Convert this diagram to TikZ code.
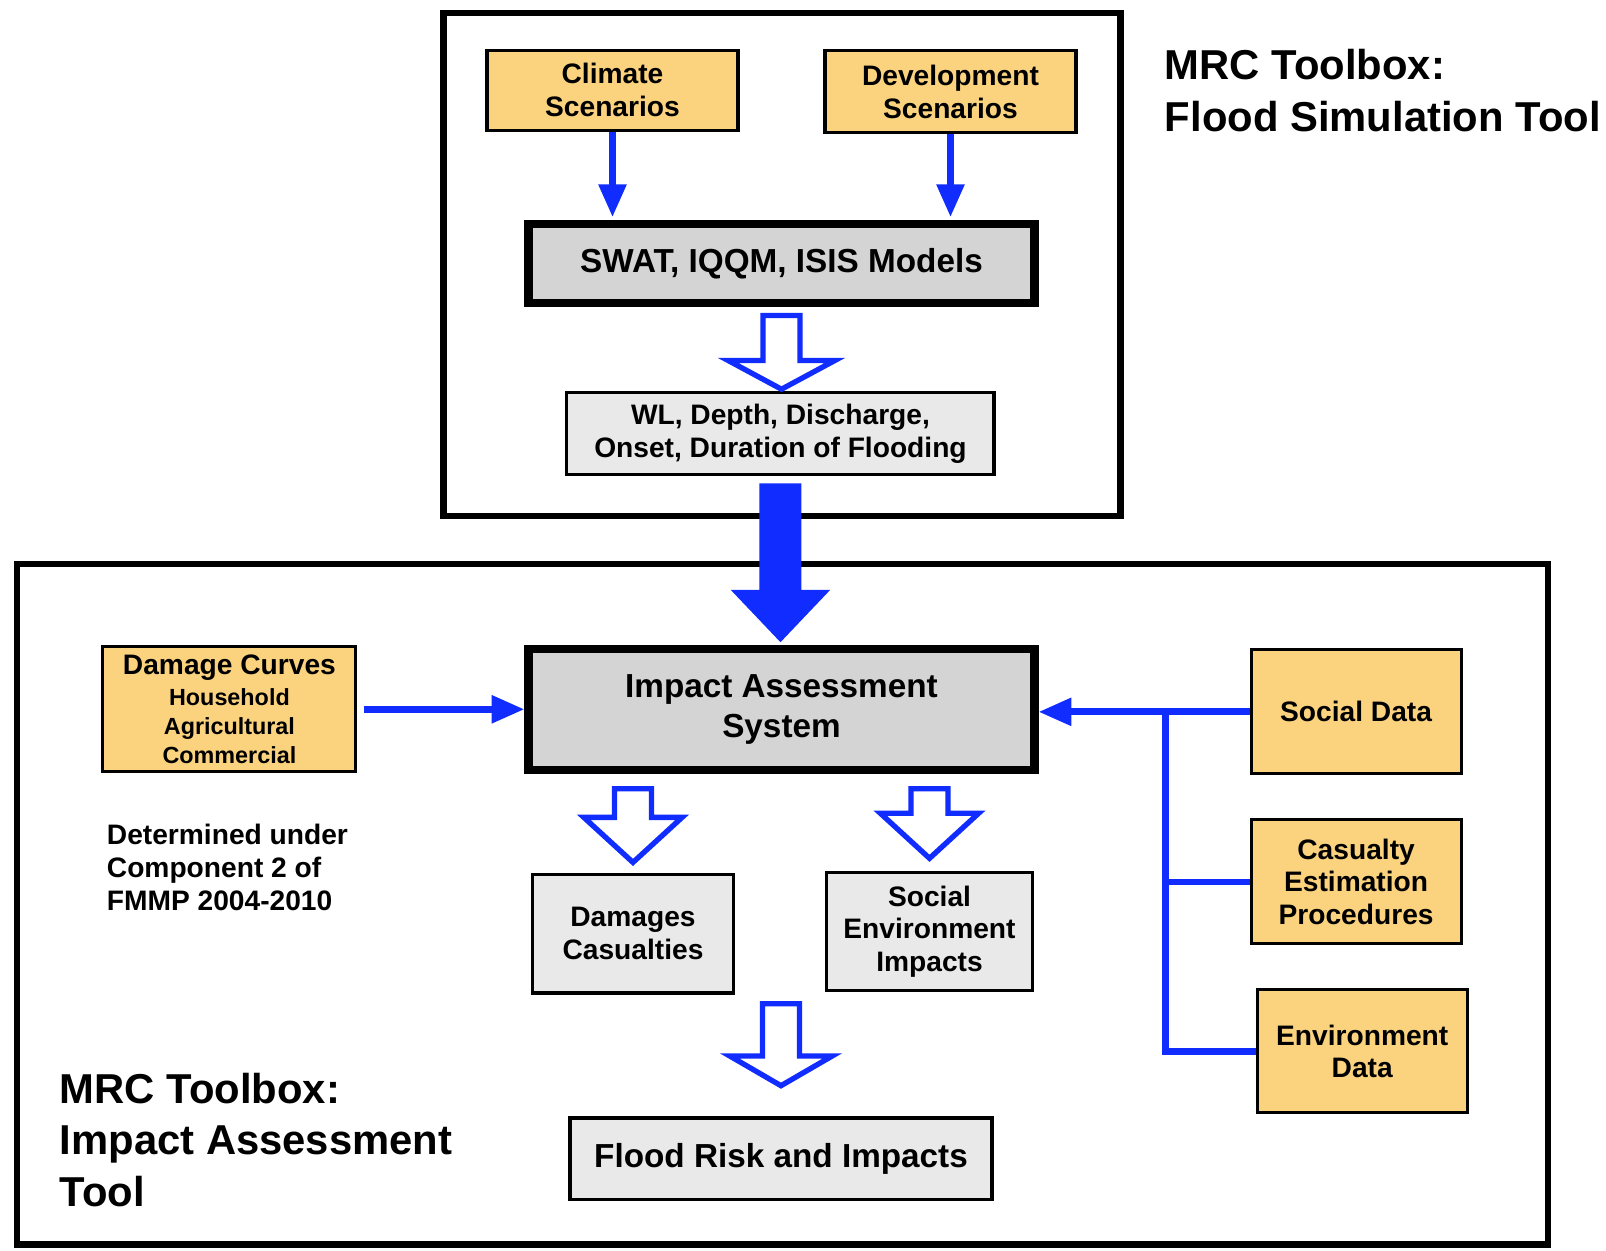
\documentclass[tikz,border=0pt]{standalone}
\usepackage{fontspec}
\setmainfont{Liberation Sans}
\usetikzlibrary{arrows.meta,calc}
\definecolor{orangec}{RGB}{251,211,126}
\definecolor{darkg}{RGB}{212,212,212}
\definecolor{lightg}{RGB}{233,233,233}
\definecolor{blueA}{RGB}{16,44,255}
\newcommand\boxfont{\fontsize{13.75}{16}\selectfont\bfseries}
\newcommand\bigboxfont{\fontsize{16.25}{19.5}\selectfont\bfseries}
\newcommand\subfont{\fontsize{11.4}{14}\selectfont\bfseries}
\newcommand\titlefont{\fontsize{20.4}{25.3}\selectfont\bfseries}
% #1 top point, #2 tip point, #3 head length, #4 head half width
\newcommand\hollowarrow[4]{%
  \draw[hollow] let \p1=#1, \p2=#2 in
    (\x1-9pt,\y1) -- (\x1+9pt,\y1) -- (\x1+9pt,\y2+#3) -- (\x1+#4,\y2+#3)
    -- (\x1,\y2) -- (\x1-#4,\y2+#3) -- (\x1-9pt,\y2+#3) -- cycle;}
\tikzset{
  base/.style={draw=black, align=center, inner sep=0pt, font=\boxfont},
  orangebox/.style={base, fill=orangec, line width=1.5pt},
  lightbox/.style={base, fill=lightg, line width=1.5pt},
  thickbox/.style={base, fill=darkg, line width=4pt, font=\bigboxfont},
  frame/.style={draw=black, line width=3pt, inner sep=0pt},
  blueline/.style={draw=blueA, line width=3.3pt},
  bluearrow/.style={blueline, -{Triangle[length=16pt,width=13pt]}},
  hollow/.style={draw=blueA, line width=2.6pt, fill=white, line join=miter},
  solidarrow/.style={fill=blueA, draw=none},
  freetext/.style={inner sep=0pt, align=left, anchor=west},
  titletext/.style={freetext, font=\titlefont}
}
\begin{document}
\begin{tikzpicture}[x=0.5pt,y=-0.5pt]
\useasboundingbox (0,0) rectangle (1568,1221);
% frames
\node[frame, minimum width=330.5pt, minimum height=245.5pt] (topframe) at (763.5,258.5) {};
\node[frame, minimum width=747pt, minimum height=332pt] (botframe) at (764,883) {};
% top part
\node[orangebox, minimum width=122.5pt, minimum height=39pt] (climate) at (598,88) {Climate\\Scenarios};
\node[orangebox, minimum width=122.5pt, minimum height=40pt] (dev) at (928,89.5) {Development\\Scenarios};
\node[thickbox, minimum width=247pt, minimum height=38.5pt] (swat) at (763,257.5) {SWAT, IQQM, ISIS Models};
\node[lightbox, minimum width=208.5pt, minimum height=40pt] (wl) at (762,423.5) {WL, Depth, Discharge,\\Onset, Duration of Flooding};
\node[titletext] (ttop) at (1137,88.5) {MRC Toolbox:\\Flood Simulation Tool};
% bottom part
\node[orangebox, minimum width=123.5pt, minimum height=61pt, font=\subfont] (damage) at (224,692.5)
  {{\boxfont Damage Curves}\\[1pt]Household\\Agricultural\\Commercial};
\node[thickbox, minimum width=247pt, minimum height=59pt] (ias) at (763,693) {Impact Assessment\\System};
\node[orangebox, minimum width=102.5pt, minimum height=60.5pt] (social) at (1324,695) {Social Data};
\node[orangebox, minimum width=102.5pt, minimum height=60.5pt] (casualty) at (1324,861) {Casualty\\Estimation\\Procedures};
\node[orangebox, minimum width=102.5pt, minimum height=60pt] (envdata) at (1330,1026.5) {Environment\\Data};
\node[lightbox, minimum width=98.5pt, minimum height=58pt] (damages) at (618,911.5) {Damages\\Casualties};
\node[lightbox, minimum width=101pt, minimum height=58pt] (socenv) at (907.5,909.5) {Social\\Environment\\Impacts};
\node[lightbox, minimum width=206pt, minimum height=40pt, font=\bigboxfont] (flood) at (762.5,1131.5) {Flood Risk and Impacts};
\node[freetext, font=\boxfont] (determined) at (104,847) {Determined under\\Component 2 of\\FMMP 2004-2010};
\node[titletext] (tbot) at (58,1113) {MRC Toolbox:\\Impact Assessment\\Tool};
% connectors
\draw[bluearrow, shorten >=1.5pt] (climate.south) -- (climate.south |- swat.north);
\draw[bluearrow, shorten >=1.5pt] (dev.south) -- (dev.south |- swat.north);
\draw[bluearrow, shorten <=3pt] (damage.east) -- (damage.east -| ias.west);
\coordinate (bus) at (1138,0);
\draw[bluearrow] (social.west) -- (social.west -| ias.east);
\draw[blueline, line join=miter] (envdata.west) -| (bus |- social.west);
\draw[blueline] (casualty.west) -- (bus |- casualty.west);
% hollow arrows
\hollowarrow{($(swat.south)+(0,8)$)}{($(wl.north)+(0,-2)$)}{14pt}{26pt}
\hollowarrow{($(ias.south -| damages.north)+(0,14)$)}{($(damages.north)+(0,-10)$)}{22pt}{24pt}
\hollowarrow{($(ias.south -| socenv.north)+(0,14)$)}{($(socenv.north)+(0,-12)$)}{22pt}{24pt}
\hollowarrow{($(flood.north)+(0,-110)$)}{($(flood.north)+(0,-30)$)}{14.5pt}{25pt}
% big solid arrow
\fill[solidarrow] let \p1=($(wl.south)+(0,7)$), \p2=($(ias.north)+(0,-3)$) in
  (\x1-10.25pt,\y1) -- (\x1+10.25pt,\y1) -- (\x1+10.25pt,\y2+25.5pt) -- (\x1+24.25pt,\y2+25.5pt)
  -- (\x1,\y2) -- (\x1-24.25pt,\y2+25.5pt) -- (\x1-10.25pt,\y2+25.5pt) -- cycle;
\end{tikzpicture}
\end{document}
